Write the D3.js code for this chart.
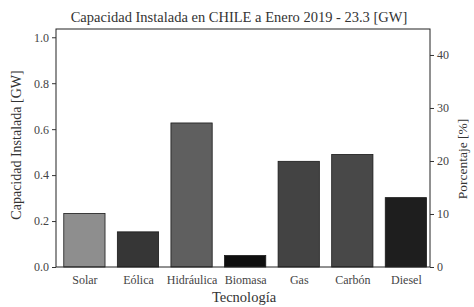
<!DOCTYPE html>
<html>
<head>
<meta charset="utf-8">
<script src="https://cdn.jsdelivr.net/npm/d3@7"></script>
<style>
	body { margin: 0; background: #fff; }
	text { font-family: "Liberation Serif", "DejaVu Serif", serif; fill: #222; }
</style>
</head>
<body>
<div id="chart"></div>
<script>
//////////////////////////////
// DATA
//////////////////////////////

const tecnologias = ["Solar", "Eólica", "Hidráulica", "Biomasa", "Gas", "Carbón", "Diesel"]
const capacidad = [0.233, 0.153, 0.627, 0.05, 0.46, 0.49, 0.302]
const colores = ["#8e8e8e", "#363636", "#5f5f5f", "#0f0f0f", "#434343", "#484848", "#1e1e1e"]
const ticksIzq = [0.0, 0.2, 0.4, 0.6, 0.8, 1.0]
const ticksDer = [0, 10, 20, 30, 40]

//////////////////////////////
// CHART
//////////////////////////////

const barChart = () => {

	let width = 474
	let height = 307
	let m = { top: 29, right: 44, bottom: 40, left: 56 }

	let svg = d3.select("#chart").append("svg").attr("width", width).attr("height", height)

	let x = d3.scaleLinear().domain([-0.53, 6.45]).range([m.left, width - m.right])
	let y = d3.scaleLinear().domain([0, 1.036]).range([height - m.bottom, m.top])
	let y2 = d3.scaleLinear().domain([0, 44.9]).range([height - m.bottom, m.top])
	let bw = 0.77

	svg.selectAll(".bar").data(capacidad).enter().append("rect")
		.attr("class", "bar")
		.attr("x", (d, i) => x(i - bw / 2))
		.attr("width", (d, i) => x(bw) - x(0))
		.attr("y", (d) => y(d))
		.attr("height", (d) => y(0) - y(d))
		.style("fill", (d, i) => colores[i])
		.style("stroke", "#1a1a1a")
		.style("stroke-width", 0.8)

	// frame
	svg.append("rect")
		.attr("x", m.left).attr("y", m.top)
		.attr("width", width - m.left - m.right)
		.attr("height", height - m.top - m.bottom)
		.style("fill", "none").style("stroke", "#222").style("stroke-width", 1)

	let left = svg.append("g").attr("transform", "translate(" + m.left + ",0)")
		.call(d3.axisLeft(y).tickValues(ticksIzq).tickFormat(d3.format(".1f")).tickSize(4).tickPadding(3))
	let right = svg.append("g").attr("transform", "translate(" + (width - m.right) + ",0)")
		.call(d3.axisRight(y2).tickValues(ticksDer).tickSize(4).tickPadding(3))
	let bottom = svg.append("g").attr("transform", "translate(0," + (height - m.bottom) + ")")
		.call(d3.axisBottom(x).tickValues(d3.range(tecnologias.length)).tickFormat((i) => tecnologias[i]).tickSize(0).tickPadding(8))

	;[left, right, bottom].forEach((g) => {
		g.select(".domain").remove()
		g.selectAll("text").style("font-size", "12px").style("font-family", "'Liberation Serif', serif").style("fill", "#444")
		g.selectAll("line").style("stroke", "#333")
	})

	svg.append("text").attr("x", 239).attr("y", 22).attr("text-anchor", "middle")
		.style("font-size", "14.5px").style("fill", "#333").text("Capacidad Instalada en CHILE a Enero 2019 - 23.3 [GW]")

	svg.append("text").attr("x", 244).attr("y", 302).attr("text-anchor", "middle")
		.style("font-size", "14.5px").style("fill", "#333").text("Tecnología")

	svg.append("text").attr("transform", "translate(21,145) rotate(-90)").attr("text-anchor", "middle")
		.style("font-size", "14px").style("fill", "#333").text("Capacidad Instalada [GW]")

	svg.append("text").attr("transform", "translate(467,159) rotate(-90)").attr("text-anchor", "middle")
		.style("font-size", "13.5px").style("fill", "#333").text("Porcentaje [%]")
}

barChart()
</script>
</body>
</html>
